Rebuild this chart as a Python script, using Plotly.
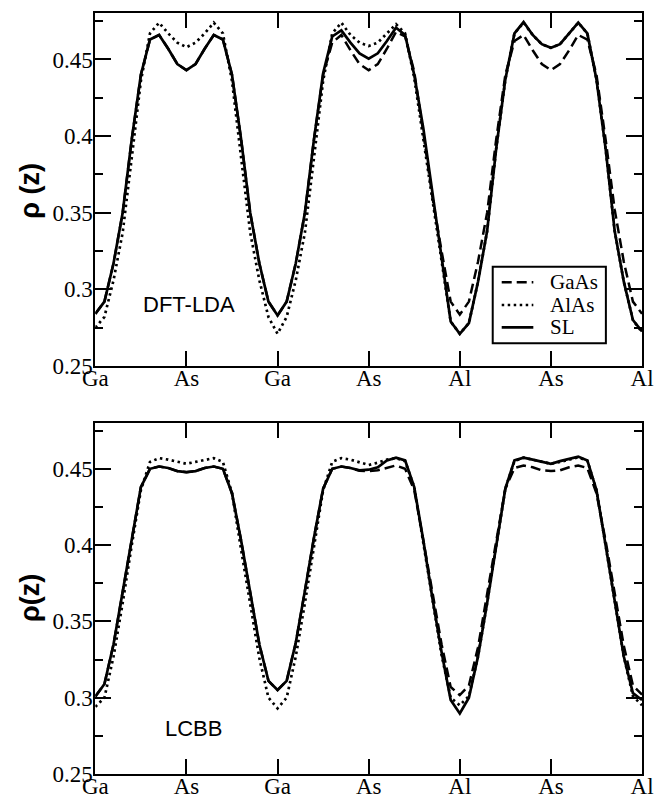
import numpy as np
import plotly.graph_objects as go

# Positions along z (units of half a lattice step between atomic planes)
z = np.round(np.arange(0, 61) * 0.1, 1)
atom_ticks = [0, 1, 2, 3, 4, 5, 6]
atom_labels = ["Ga", "As", "Ga", "As", "Al", "As", "Al"]

# ---- DFT-LDA planar-averaged densities ----
dft_gaas = [
    0.284, 0.292, 0.317, 0.350, 0.398, 0.440, 0.463, 0.466, 0.457, 0.447,
    0.443, 0.447, 0.457, 0.466, 0.463, 0.440, 0.398, 0.350, 0.317, 0.292,
    0.283, 0.292, 0.317, 0.350, 0.398, 0.440, 0.461, 0.466, 0.456, 0.447,
    0.443, 0.447, 0.457, 0.468, 0.465, 0.442, 0.402, 0.360, 0.325, 0.292,
    0.2835, 0.292, 0.318, 0.350, 0.398, 0.440, 0.462, 0.466, 0.456, 0.447,
    0.443, 0.447, 0.456, 0.466, 0.463, 0.440, 0.398, 0.352, 0.318, 0.292,
    0.284,
]
dft_alas = [
    0.275, 0.282, 0.306, 0.337, 0.386, 0.436, 0.467, 0.474, 0.467, 0.461,
    0.458, 0.461, 0.467, 0.474, 0.467, 0.436, 0.386, 0.337, 0.306, 0.282,
    0.271, 0.282, 0.306, 0.337, 0.386, 0.436, 0.467, 0.474, 0.466, 0.461,
    0.4587, 0.461, 0.467, 0.473, 0.467, 0.438, 0.398, 0.358, 0.320, 0.279,
    0.271, 0.278, 0.305, 0.338, 0.392, 0.437, 0.467, 0.474, 0.466, 0.460,
    0.4576, 0.460, 0.467, 0.474, 0.467, 0.437, 0.392, 0.338, 0.305, 0.280,
    0.272,
]
dft_sl = [
    0.284, 0.292, 0.317, 0.350, 0.398, 0.440, 0.463, 0.466, 0.457, 0.447,
    0.443, 0.447, 0.457, 0.466, 0.463, 0.440, 0.398, 0.350, 0.317, 0.292,
    0.283, 0.292, 0.317, 0.350, 0.398, 0.441, 0.465, 0.469, 0.461, 0.454,
    0.4505, 0.454, 0.462, 0.4707, 0.466, 0.440, 0.405, 0.362, 0.322, 0.279,
    0.271, 0.278, 0.305, 0.338, 0.392, 0.437, 0.467, 0.4744, 0.466, 0.460,
    0.4576, 0.460, 0.467, 0.474, 0.467, 0.437, 0.392, 0.338, 0.305, 0.280,
    0.2725,
]

# ---- LCBB planar-averaged densities ----
lcbb_gaas = [
    0.301, 0.309, 0.335, 0.370, 0.405, 0.438, 0.450, 0.4515, 0.4505, 0.4485,
    0.4478, 0.4485, 0.4505, 0.4515, 0.450, 0.434, 0.403, 0.368, 0.335, 0.311,
    0.305, 0.311, 0.336, 0.370, 0.405, 0.437, 0.450, 0.4515, 0.4505, 0.4487,
    0.4485, 0.449, 0.4508, 0.4522, 0.450, 0.436, 0.403, 0.368, 0.335, 0.307,
    0.3017, 0.308, 0.333, 0.368, 0.404, 0.437, 0.4505, 0.4522, 0.451, 0.449,
    0.4485, 0.449, 0.451, 0.4522, 0.4505, 0.434, 0.403, 0.368, 0.334, 0.308,
    0.302,
]
lcbb_alas = [
    0.294, 0.300, 0.327, 0.362, 0.400, 0.436, 0.4545, 0.457, 0.456, 0.4545,
    0.4533, 0.4545, 0.456, 0.457, 0.4545, 0.434, 0.397, 0.360, 0.326, 0.300,
    0.293, 0.300, 0.327, 0.362, 0.400, 0.436, 0.4545, 0.457, 0.456, 0.454,
    0.4525, 0.454, 0.456, 0.457, 0.455, 0.438, 0.401, 0.363, 0.328, 0.300,
    0.295, 0.301, 0.327, 0.362, 0.400, 0.437, 0.455, 0.4573, 0.456, 0.4545,
    0.4533, 0.4545, 0.456, 0.4575, 0.4553, 0.436, 0.400, 0.362, 0.327, 0.301,
    0.295,
]
lcbb_sl = [
    0.3006, 0.309, 0.335, 0.370, 0.405, 0.438, 0.450, 0.4515, 0.4505, 0.4485,
    0.4478, 0.4485, 0.4505, 0.4515, 0.450, 0.434, 0.403, 0.368, 0.335, 0.311,
    0.305, 0.311, 0.336, 0.370, 0.405, 0.437, 0.450, 0.4515, 0.4505, 0.449,
    0.4494, 0.451, 0.4555, 0.4573, 0.4555, 0.438, 0.403, 0.365, 0.330, 0.2985,
    0.2897, 0.300, 0.327, 0.362, 0.400, 0.437, 0.4555, 0.4573, 0.456, 0.4545,
    0.4533, 0.455, 0.4565, 0.458, 0.4555, 0.436, 0.400, 0.362, 0.327, 0.303,
    0.2985,
]

SERIF = "Liberation Serif, Times New Roman, serif"
SANS = "Liberation Sans, Arial, sans-serif"

series_names = ["GaAs", "AlAs", "SL"]
styles = {
    "GaAs": dict(color="black", width=2.5, dash="10px,5px"),
    "AlAs": dict(color="black", width=2.7, dash="2.5px,3.5px"),
    "SL": dict(color="black", width=2.7, dash="solid"),
}

fig = go.Figure()

panels = [
    ("x", "y", {"GaAs": dft_gaas, "AlAs": dft_alas, "SL": dft_sl}),
    ("x2", "y2", {"GaAs": lcbb_gaas, "AlAs": lcbb_alas, "SL": lcbb_sl}),
]
for xa, ya, series in panels:
    for name in series_names:
        fig.add_trace(go.Scatter(
            x=z, y=series[name], mode="lines", name=name,
            line=styles[name], xaxis=xa, yaxis=ya, showlegend=False,
        ))

xdom = [0.1453, 0.9787]
ydom_top = [0.5414, 0.9831]
ydom_bot = [0.0301, 0.4699]

def x_axis(anchor):
    return dict(
        domain=xdom, anchor=anchor, range=[0, 6], automargin=False,
        tickmode="array", tickvals=atom_ticks, ticktext=atom_labels,
        ticks="inside", ticklen=15, tickwidth=2, tickcolor="black",
        ticklabelstandoff=-10,
        showline=True, linewidth=2, linecolor="black", mirror="ticks",
        showgrid=False, zeroline=False,
        tickfont=dict(family=SERIF, size=23, color="black"),
    )

def y_axis(anchor, dom):
    return dict(
        domain=dom, anchor=anchor, range=[0.25, 0.48], automargin=False,
        tick0=0.25, dtick=0.05,
        ticks="inside", ticklen=16, tickwidth=2, tickcolor="black",
        ticklabelstandoff=-4,
        minor=dict(dtick=0.025, tick0=0.25, ticks="inside", ticklen=8,
                   tickwidth=2, tickcolor="black", showgrid=False),
        showline=True, linewidth=2, linecolor="black", mirror="ticks",
        showgrid=False, zeroline=False,
        tickfont=dict(family=SERIF, size=23, color="black"),
    )

# Boxed key in the upper panel (paper coordinates)
shapes = [dict(type="rect", xref="paper", yref="paper",
               x0=0.7511, x1=0.9236, y0=0.5698, y1=0.6658,
               line=dict(color="black", width=2), fillcolor="white",
               layer="above")]
key_rows = [0.6462, 0.6178, 0.5898]
annotations = []
for name, yk in zip(series_names, key_rows):
    shapes.append(dict(type="line", xref="paper", yref="paper",
                       x0=0.7648, x1=0.8130, y0=yk, y1=yk,
                       line=styles[name], layer="above"))
    annotations.append(dict(text=name, xref="paper", yref="paper",
                            x=0.8354, y=yk, xanchor="left", yanchor="middle",
                            showarrow=False,
                            font=dict(family=SERIF, size=21, color="black")))

annotations += [
    dict(text="<b>ρ (z)</b>", xref="paper", yref="paper", x=0.0457, y=0.761,
         xanchor="center", yanchor="middle", textangle=-90, showarrow=False,
         font=dict(family=SANS, size=27, color="black")),
    dict(text="<b>ρ(z)</b>", xref="paper", yref="paper", x=0.0457, y=0.2506,
         xanchor="center", yanchor="middle", textangle=-90, showarrow=False,
         font=dict(family=SANS, size=27, color="black")),
    dict(text="DFT-LDA", xref="x", yref="y", x=1.03, y=0.29,
         showarrow=False, font=dict(family=SANS, size=22, color="black")),
    dict(text="LCBB", xref="x2", yref="y2", x=1.08, y=0.280,
         showarrow=False, font=dict(family=SANS, size=22, color="black")),
]

fig.update_layout(
    width=656, height=798, autosize=False,
    margin=dict(l=0, r=0, t=0, b=0, pad=0, autoexpand=False),
    paper_bgcolor="white", plot_bgcolor="white",
    xaxis=x_axis("y"), yaxis=y_axis("x", ydom_top),
    xaxis2=x_axis("y2"), yaxis2=y_axis("x2", ydom_bot),
    showlegend=False,
    shapes=shapes,
    annotations=annotations,
)

fig.write_html("out.html")
